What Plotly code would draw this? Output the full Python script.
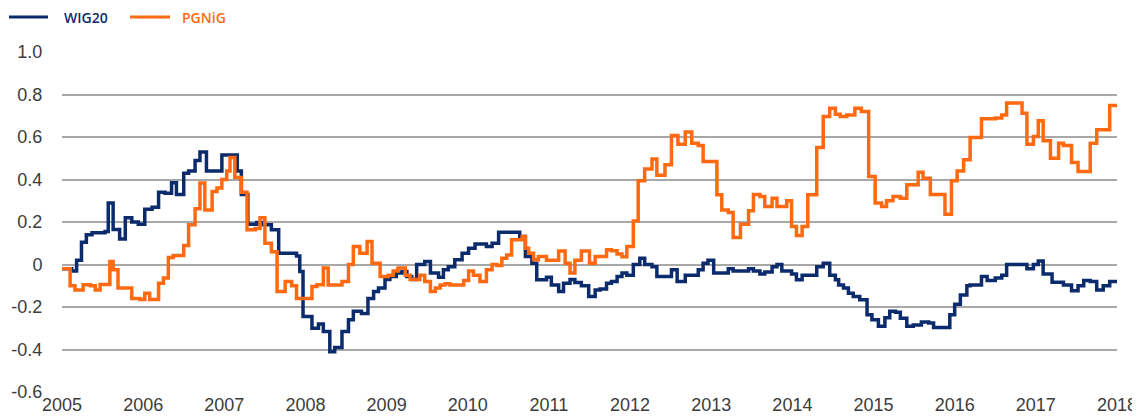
import plotly.graph_objects as go

# ---- data ----
wig20_x = [2005.00, 2005.12, 2005.18, 2005.24, 2005.30, 2005.37, 2005.53, 2005.57, 2005.63, 2005.71,
           2005.78, 2005.86, 2005.94, 2006.02, 2006.11, 2006.19, 2006.27, 2006.35, 2006.41, 2006.50,
           2006.56, 2006.64, 2006.70, 2006.78, 2006.97, 2007.16, 2007.21, 2007.29, 2007.40, 2007.48,
           2007.58, 2007.67, 2007.89, 2007.93, 2007.97, 2008.08, 2008.16, 2008.22, 2008.30, 2008.36,
           2008.45, 2008.53, 2008.59, 2008.69, 2008.77, 2008.84, 2008.90, 2008.98, 2009.04, 2009.12,
           2009.19, 2009.25, 2009.31, 2009.37, 2009.47, 2009.54, 2009.64, 2009.70, 2009.76, 2009.84,
           2009.93, 2010.01, 2010.09, 2010.23, 2010.30, 2010.38, 2010.64, 2010.71, 2010.79, 2010.85,
           2010.97, 2011.03, 2011.12, 2011.18, 2011.26, 2011.32, 2011.40, 2011.49, 2011.57, 2011.63,
           2011.71, 2011.77, 2011.84, 2011.90, 2011.96, 2012.04, 2012.12, 2012.18, 2012.27, 2012.33,
           2012.51, 2012.58, 2012.68, 2012.84, 2012.90, 2012.96, 2013.03, 2013.21, 2013.27, 2013.46,
           2013.52, 2013.60, 2013.66, 2013.75, 2013.81, 2013.87, 2013.99, 2014.05, 2014.12, 2014.30,
           2014.38, 2014.46, 2014.53, 2014.57, 2014.63, 2014.69, 2014.75, 2014.83, 2014.92, 2014.98,
           2015.06, 2015.14, 2015.20, 2015.27, 2015.33, 2015.41, 2015.49, 2015.59, 2015.68, 2015.74,
           2015.94, 2016.00, 2016.07, 2016.15, 2016.19, 2016.33, 2016.40, 2016.50, 2016.58, 2016.64,
           2016.89, 2016.97, 2017.03, 2017.09, 2017.20, 2017.34, 2017.44, 2017.52, 2017.59, 2017.67,
           2017.75, 2017.83, 2017.91, 2018.00]
wig20_y = [-0.02, -0.03, 0.02, 0.105, 0.14, 0.15, 0.155, 0.29, 0.165, 0.12,
           0.22, 0.20, 0.19, 0.26, 0.27, 0.34, 0.335, 0.385, 0.33, 0.43,
           0.44, 0.49, 0.53, 0.44, 0.515, 0.44, 0.33, 0.19, 0.198, 0.187,
           0.163, 0.053, 0.04, -0.033, -0.245, -0.30, -0.28, -0.315, -0.41, -0.39,
           -0.315, -0.26, -0.22, -0.23, -0.16, -0.127, -0.11, -0.07, -0.056, -0.04,
           -0.033, -0.056, -0.07, 0.0, 0.014, -0.04, -0.06, -0.025, -0.01, 0.022,
           0.053, 0.077, 0.096, 0.085, 0.10, 0.152, 0.132, 0.038, 0.006, -0.072,
           -0.06, -0.096, -0.127, -0.088, -0.07, -0.085, -0.10, -0.15, -0.12, -0.115,
           -0.088, -0.08, -0.056, -0.04, -0.05, 0.0, 0.03, 0.0, -0.01, -0.056,
           -0.025, -0.08, -0.05, -0.025, 0.006, 0.02, -0.04, -0.02, -0.03, -0.02,
           -0.03, -0.045, -0.035, -0.01, 0.0, -0.03, -0.045, -0.072, -0.05, -0.01,
           0.006, -0.05, -0.072, -0.096, -0.11, -0.135, -0.15, -0.166, -0.237, -0.26,
           -0.29, -0.25, -0.22, -0.225, -0.253, -0.29, -0.285, -0.27, -0.275, -0.297,
           -0.237, -0.187, -0.143, -0.10, -0.096, -0.056, -0.075, -0.064, -0.05, 0.0,
           -0.02, 0.0, 0.017, -0.045, -0.083, -0.096, -0.124, -0.10, -0.075, -0.08,
           -0.12, -0.10, -0.08, -0.08]

pgnig_x = [2005.00, 2005.10, 2005.16, 2005.26, 2005.35, 2005.41, 2005.47, 2005.59, 2005.63, 2005.69,
           2005.86, 2005.96, 2006.02, 2006.08, 2006.19, 2006.25, 2006.31, 2006.37, 2006.50, 2006.56,
           2006.64, 2006.70, 2006.76, 2006.85, 2006.91, 2006.97, 2007.03, 2007.07, 2007.13, 2007.21,
           2007.28, 2007.38, 2007.44, 2007.50, 2007.58, 2007.65, 2007.75, 2007.83, 2007.89, 2008.08,
           2008.14, 2008.22, 2008.28, 2008.45, 2008.53, 2008.59, 2008.67, 2008.76, 2008.82, 2008.92,
           2009.02, 2009.08, 2009.14, 2009.23, 2009.29, 2009.41, 2009.47, 2009.54, 2009.60, 2009.66,
           2009.72, 2009.78, 2009.95, 2010.01, 2010.07, 2010.15, 2010.23, 2010.30, 2010.36, 2010.42,
           2010.48, 2010.54, 2010.67, 2010.71, 2010.75, 2010.81, 2010.87, 2010.97, 2011.12, 2011.20,
           2011.26, 2011.32, 2011.40, 2011.50, 2011.57, 2011.71, 2011.77, 2011.84, 2011.90, 2011.96,
           2012.04, 2012.10, 2012.18, 2012.27, 2012.33, 2012.43, 2012.51, 2012.59, 2012.68, 2012.76,
           2012.84, 2012.90, 2013.07, 2013.13, 2013.21, 2013.27, 2013.36, 2013.46, 2013.52, 2013.60,
           2013.66, 2013.75, 2013.81, 2013.93, 2013.99, 2014.05, 2014.12, 2014.19, 2014.30, 2014.38,
           2014.46, 2014.53, 2014.59, 2014.67, 2014.77, 2014.85, 2014.94, 2015.02, 2015.10, 2015.16,
           2015.24, 2015.33, 2015.41, 2015.55, 2015.61, 2015.70, 2015.88, 2015.96, 2016.03, 2016.11,
           2016.19, 2016.33, 2016.50, 2016.58, 2016.64, 2016.83, 2016.89, 2016.97, 2017.03, 2017.09,
           2017.18, 2017.28, 2017.34, 2017.44, 2017.52, 2017.67, 2017.75, 2017.91, 2018.00]
pgnig_y = [-0.02, -0.10, -0.12, -0.095, -0.10, -0.12, -0.094, 0.014, -0.025, -0.11,
           -0.16, -0.165, -0.135, -0.165, -0.088, -0.064, 0.033, 0.042, 0.09, 0.187,
           0.262, 0.383, 0.257, 0.343, 0.36, 0.40, 0.44, 0.504, 0.41, 0.34,
           0.163, 0.17, 0.22, 0.10, 0.06, -0.127, -0.08, -0.10, -0.16, -0.103,
           -0.095, -0.017, -0.096, -0.08, 0.0, 0.085, 0.053, 0.108, 0.006, -0.056,
           -0.05, -0.03, -0.017, -0.05, -0.07, -0.05, -0.08, -0.127, -0.11, -0.096,
           -0.09, -0.096, -0.075, -0.03, -0.05, -0.08, -0.025, 0.0, -0.005, 0.03,
           0.045, 0.116, 0.132, 0.077, 0.053, 0.022, 0.038, 0.02, 0.064, 0.006,
           -0.04, 0.02, 0.064, 0.006, 0.038, 0.07, 0.065, 0.05, 0.036, 0.085,
           0.205, 0.394, 0.45, 0.496, 0.42, 0.47, 0.607, 0.566, 0.623, 0.571,
           0.56, 0.485, 0.328, 0.257, 0.245, 0.127, 0.19, 0.253, 0.33, 0.32,
           0.273, 0.312, 0.273, 0.30, 0.179, 0.136, 0.179, 0.328, 0.55, 0.696,
           0.735, 0.707, 0.696, 0.704, 0.735, 0.72, 0.414, 0.289, 0.273, 0.30,
           0.32, 0.312, 0.375, 0.434, 0.406, 0.33, 0.237, 0.394, 0.44, 0.493,
           0.598, 0.686, 0.69, 0.704, 0.76, 0.712, 0.566, 0.602, 0.676, 0.582,
           0.50, 0.571, 0.56, 0.48, 0.438, 0.571, 0.634, 0.748, 0.748]

series_names = ["WIG20", "PGNiG"]
series_colors = ["#0b2b6c", "#ff6a10"]
year_ticks = list(range(2005, 2019))
y_ticks = [-0.6, -0.4, -0.2, 0, 0.2, 0.4, 0.6, 0.8, 1.0]
y_tick_text = ["-0.6", "-0.4", "-0.2", "0", "0.2", "0.4", "0.6", "0.8", "1.0"]

fig = go.Figure()
for xs, ys, name, col in [(wig20_x, wig20_y, series_names[0], series_colors[0]),
                          (pgnig_x, pgnig_y, series_names[1], series_colors[1])]:
    fig.add_trace(go.Scatter(x=xs, y=ys, mode="lines", name=name,
                             line=dict(color=col, width=3.5, shape="hv"),
                             showlegend=False))

tick_font = dict(family="Liberation Sans Narrow, Arial Narrow, Liberation Sans, sans-serif",
                 size=18, color="#3c3c3c")

# the page body has an 8px margin, so the figure is sized to fit the 1140x420 window
fig.update_layout(
    width=1132, height=412,
    margin=dict(l=54, r=23, t=44, b=28),
    paper_bgcolor="white", plot_bgcolor="white",
    xaxis=dict(range=[2005, 2018], tickmode="array", tickvals=year_ticks,
               ticktext=[str(y) for y in year_ticks], showgrid=False, zeroline=False,
               showline=False, ticks="", tickfont=tick_font,
               ticklabeloverflow="allow", automargin=False),
    yaxis=dict(range=[-0.6, 1.0], tickmode="array", tickvals=y_ticks, ticktext=y_tick_text,
               showgrid=True, gridcolor="#a8a8a8", gridwidth=2, zeroline=False,
               showline=False, ticks="outside", ticklen=15, tickcolor="rgba(0,0,0,0)",
               tickfont=tick_font, ticklabeloverflow="allow", automargin=False),
)

# legend drawn in the top-left corner (outside plot area)
legend_items = [(series_names[0], series_colors[0], 9, 48, 63),
                (series_names[1], series_colors[1], 130, 170, 181)]
for name, col, lx0, lx1, tx in legend_items:
    fig.add_shape(type="line", xref="paper", yref="paper",
                  x0=(lx0 - 62) / 1055, x1=(lx1 - 62) / 1055,
                  y0=(392 - 17) / 340, y1=(392 - 17) / 340,
                  line=dict(color=col, width=3))
    fig.add_annotation(xref="paper", yref="paper", x=(tx - 62) / 1055, y=(392 - 18) / 340,
                       text=name, showarrow=False, xanchor="left", yanchor="middle",
                       borderpad=0,
                       font=dict(family="Open Sans, sans-serif", size=14, color=col,
                                 weight=600))

fig.write_html("out.html")
